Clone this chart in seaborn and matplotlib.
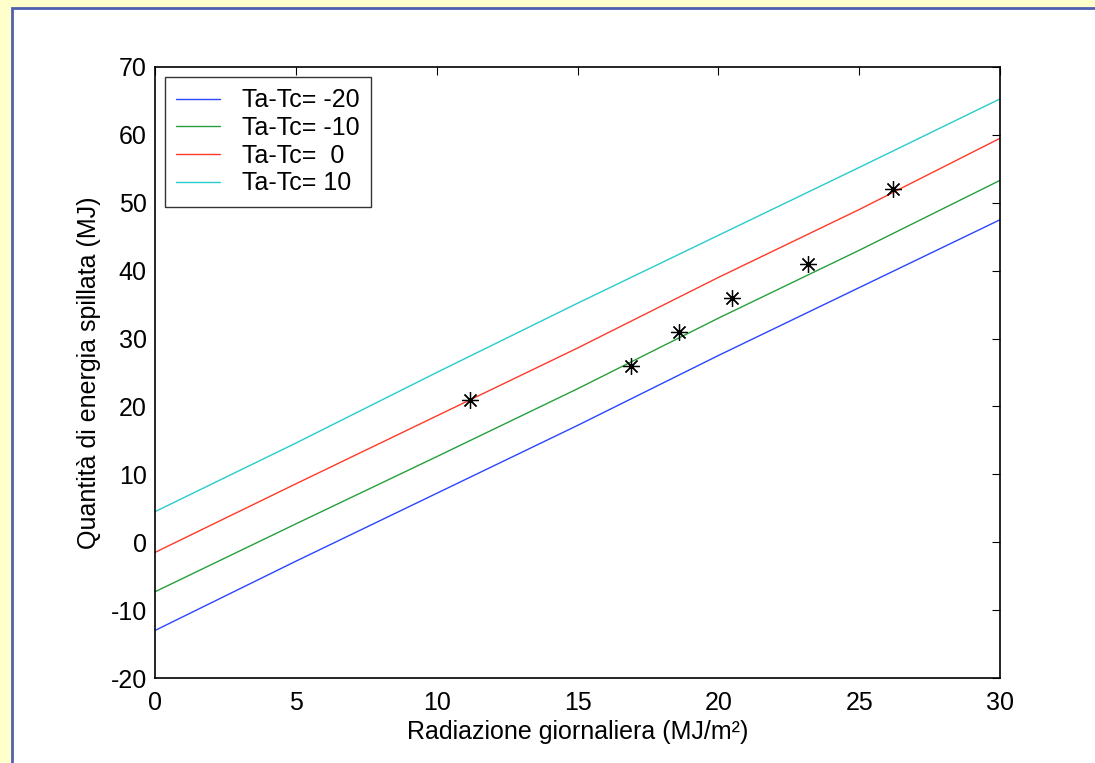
import matplotlib

matplotlib.use("Agg")

import matplotlib.pyplot as plt
import pandas as pd
import seaborn as sns
from matplotlib.patches import Rectangle

RADIATION = [0, 5, 10, 15, 20, 25, 30]
DELTA_LABELS = ["Ta-Tc= -20", "Ta-Tc= -10", "Ta-Tc=  0", "Ta-Tc= 10"]
ENERGY_M20 = [-13.0, -2.8, 7.2, 17.2, 27.5, 37.5, 47.5]
ENERGY_M10 = [-7.3, 2.7, 12.6, 22.6, 33.0, 43.0, 53.3]
ENERGY_0 = [-1.5, 8.6, 18.6, 28.6, 39.0, 49.0, 59.5]
ENERGY_10 = [4.5, 14.6, 25.0, 35.2, 45.2, 55.2, 65.3]

MEASURED_X = [11.2, 16.9, 18.6, 20.5, 23.2, 26.2]
MEASURED_Y = [21, 26, 31, 36, 41, 52]

COLORS = ["#2a46ff", "#25a03c", "#ff3a28", "#28cccc"]
FONT_SIZE = 18


def build_frame() -> pd.DataFrame:
    series = [ENERGY_M20, ENERGY_M10, ENERGY_0, ENERGY_10]
    rows = []
    for label, values in zip(DELTA_LABELS, series):
        for x, y in zip(RADIATION, values):
            rows.append({"radiazione": x, "energia": y, "serie": label})
    return pd.DataFrame(rows)


def main() -> None:
    sns.set_theme(style="white")
    plt.rcParams["font.family"] = ["Liberation Sans", "DejaVu Sans"]
    plt.rcParams["axes.unicode_minus"] = False
    plt.rcParams["text.color"] = "black"
    plt.rcParams["axes.labelcolor"] = "black"

    df = build_frame()

    fig = plt.figure(figsize=(10.95, 7.63), dpi=100)
    fig.patch.set_facecolor("#ffffcc")
    # white slide panel with blue edge, kept behind the axes
    fig.patches.append(
        Rectangle((12 / 1095, -0.01), 1.02, 1 - 8 / 763 + 0.01,
                  transform=fig.transFigure, facecolor="white",
                  edgecolor="#5060b0", linewidth=2, zorder=-10)
    )

    ax = fig.add_axes([155 / 1095, 1 - 678 / 763, 845 / 1095, 611 / 763])
    ax.set_zorder(5)
    sns.lineplot(data=df, x="radiazione", y="energia", hue="serie",
                 hue_order=DELTA_LABELS, palette=COLORS, linewidth=1,
                 ax=ax)
    ax.plot(MEASURED_X, MEASURED_Y, linestyle="none", marker=(8, 2, 0),
            markersize=12, color="black", markeredgewidth=0.9)

    ax.set_xlim(0, 30)
    ax.set_ylim(-20, 70)
    ax.set_xticks(range(0, 31, 5))
    ax.set_yticks(range(-20, 71, 10))
    ax.tick_params(direction="in", length=6, width=0.8,
                   labelsize=FONT_SIZE, top=True, right=True,
                   colors="black")
    ax.tick_params(axis="x", pad=9)
    ax.tick_params(axis="y", pad=6)
    for side in ax.spines.values():
        side.set_color("black")
        side.set_linewidth(1.2)

    ax.set_xlabel("Radiazione giornaliera (MJ/m²)", fontsize=FONT_SIZE,
                  labelpad=4)
    ax.set_ylabel("Quantità di energia spillata (MJ)", fontsize=FONT_SIZE,
                  labelpad=7)

    leg = ax.legend(loc="upper left", fontsize=FONT_SIZE, frameon=True,
                    fancybox=False, edgecolor="black", handlelength=1.75,
                    handletextpad=0.9, borderaxespad=0.4,
                    labelspacing=0.15, borderpad=0.45)
    leg.get_frame().set_linewidth(1)

    fig.savefig("out.png", dpi=100, facecolor=fig.get_facecolor())
    plt.close(fig)


if __name__ == "__main__":
    main()
